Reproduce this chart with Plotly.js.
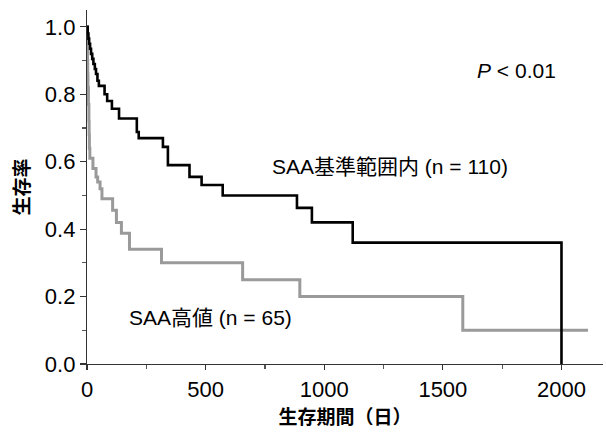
<!DOCTYPE html>
<html>
<head>
<meta charset="utf-8">
<script src="https://cdn.plot.ly/plotly-3.0.1.min.js"></script>
<style>html,body{margin:0;padding:0;background:#fff;}#chart{width:606px;height:436px;}</style>
</head>
<body>
<div id="chart"></div>
<script>
// SAA within reference range (n = 110): event days and survival after each step
const normalDays = [0, 3, 6, 9, 13, 17, 22, 27, 33, 38, 44, 50, 74, 85, 105, 135, 210, 218, 320, 341, 432, 483, 572, 885, 948, 1120, 2000];
const normalSurv = [1.0, 0.98, 0.965, 0.95, 0.935, 0.92, 0.905, 0.89, 0.875, 0.86, 0.84, 0.825, 0.80, 0.78, 0.757, 0.728, 0.688, 0.67, 0.644, 0.59, 0.555, 0.531, 0.50, 0.463, 0.42, 0.36, 0.0];

// SAA high (n = 65)
const highDays = [0, 1, 2, 3, 4, 6, 8, 9, 10, 12, 25, 38, 45, 55, 63, 108, 124, 145, 179, 314, 656, 897, 1584, 2112];
const highSurv = [1.0, 0.95, 0.9, 0.86, 0.82, 0.77, 0.72, 0.68, 0.64, 0.61, 0.58, 0.555, 0.54, 0.52, 0.49, 0.456, 0.42, 0.388, 0.34, 0.30, 0.25, 0.20, 0.10, 0.10];

const xTickVals = [0, 500, 1000, 1500, 2000];
const yTickVals = [0, 0.2, 0.4, 0.6, 0.8, 1.0];
const yTickText = ['0.0', '0.2', '0.4', '0.6', '0.8', '1.0'];

const FONT = 'Liberation Sans, Arial, Noto Sans CJK JP, sans-serif';
const CJK = 'Noto Sans CJK JP, sans-serif';

const traces = [
  {x: highDays, y: highSurv, mode: 'lines', line: {shape: 'hv', color: '#9a9a9a', width: 3}, hoverinfo: 'skip'},
  {x: normalDays, y: normalSurv, mode: 'lines', line: {shape: 'hv', color: '#000000', width: 2.6}, hoverinfo: 'skip'}
];

const layout = {
  width: 606, height: 436,
  margin: {l: 87, r: 3, t: 10, b: 72},
  paper_bgcolor: '#ffffff', plot_bgcolor: '#ffffff',
  showlegend: false,
  font: {family: FONT, color: '#000'},
  xaxis: {
    range: [0, 2175], showgrid: false, zeroline: false,
    showline: true, linecolor: '#333', linewidth: 1.2,
    ticks: 'outside', ticklen: 5, tickcolor: '#333', tickwidth: 1.2,
    tickvals: xTickVals, ticktext: xTickVals.map(String),
    tickfont: {size: 22, family: FONT},
    minor: {ticks: 'outside', ticklen: 4, tickcolor: '#555', dtick: 250, tick0: 0},
    title: {text: '<b>生存期間（日）</b>', font: {size: 19, family: CJK}, standoff: 8}
  },
  yaxis: {
    range: [0, 1.05], showgrid: false, zeroline: false,
    showline: true, linecolor: '#333', linewidth: 1.2,
    ticks: 'outside', ticklen: 6, tickcolor: '#333', tickwidth: 1.2,
    tickvals: yTickVals, ticktext: yTickText,
    tickfont: {size: 22, family: FONT},
    minor: {ticks: 'outside', ticklen: 4, tickcolor: '#555', dtick: 0.1, tick0: 0},
    title: {text: '<b>生存率</b>', font: {size: 19, family: CJK}, standoff: 10}
  },
  annotations: [
    {x: 772, y: 0.585, xref: 'x', yref: 'y', xanchor: 'left', yanchor: 'middle', showarrow: false,
     text: 'SAA基準範囲内 (n = 110)', font: {size: 21, family: FONT}},
    {x: 170, y: 0.137, xref: 'x', yref: 'y', xanchor: 'left', yanchor: 'middle', showarrow: false,
     text: 'SAA高値 (n = 65)', font: {size: 21, family: FONT}},
    {x: 1637, y: 0.872, xref: 'x', yref: 'y', xanchor: 'left', yanchor: 'middle', showarrow: false,
     text: '<i>P</i> < 0.01', font: {size: 21, family: FONT}}
  ]
};

Plotly.newPlot('chart', traces, layout, {displayModeBar: false, staticPlot: true});
</script>
</body>
</html>
